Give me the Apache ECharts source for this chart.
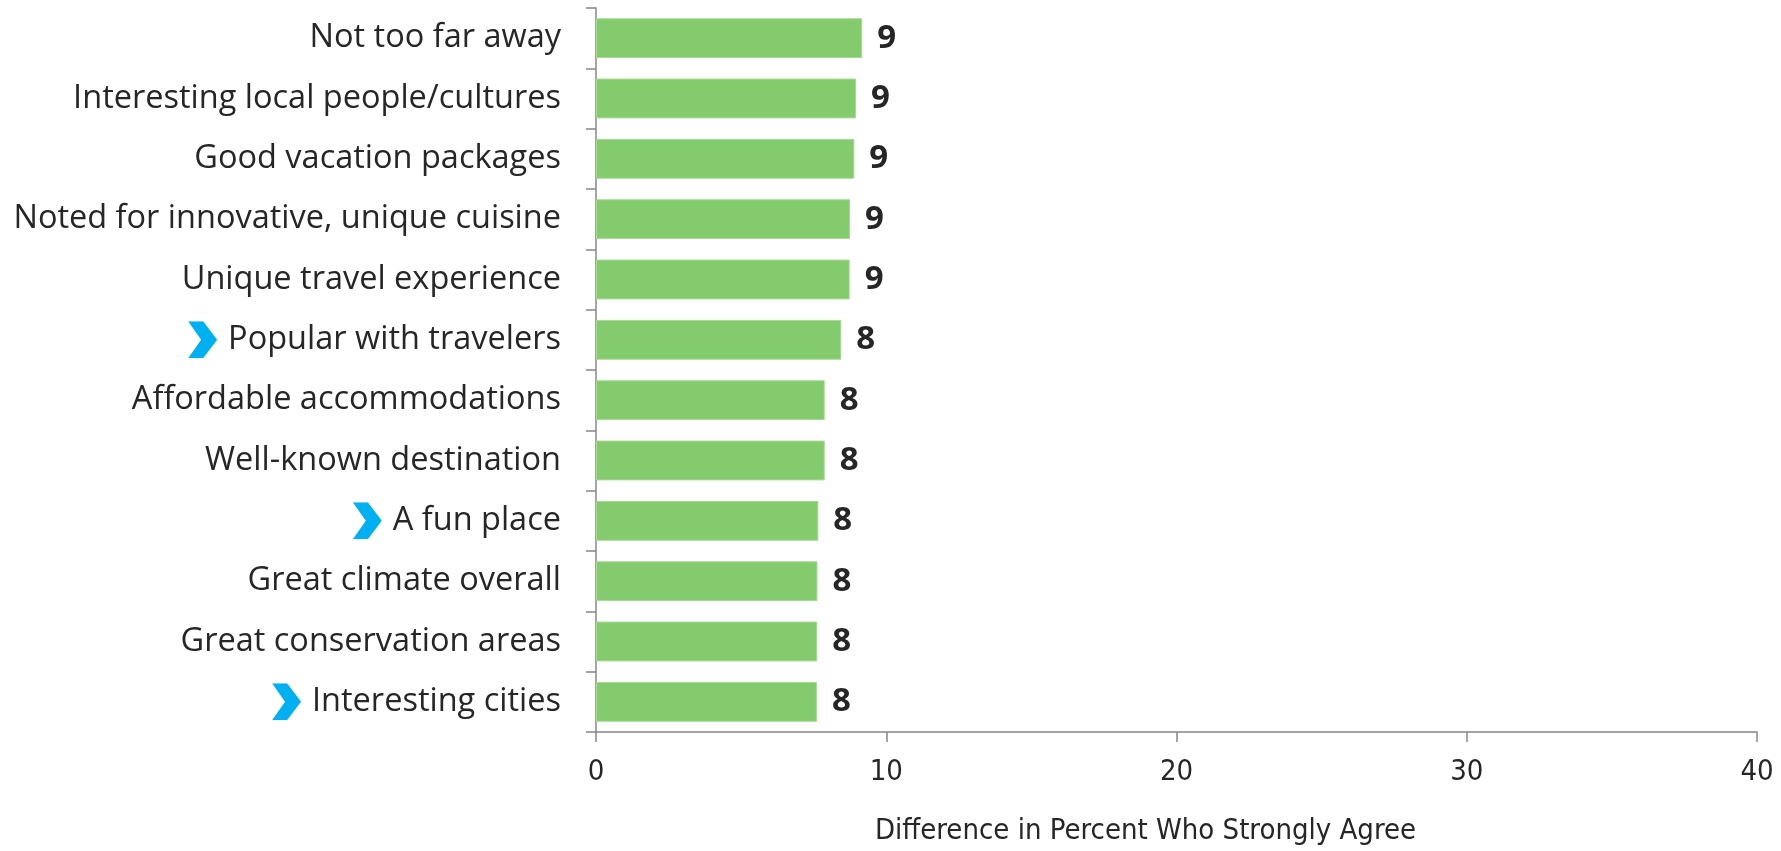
<!DOCTYPE html>
<html>
<head>
<meta charset="utf-8">
<script src="https://cdn.jsdelivr.net/npm/echarts@6/dist/echarts.min.js"></script>
<style>html,body{margin:0;padding:0;background:#fff}#c{width:1781px;height:851px}</style>
</head>
<body>
<div id="c"></div>
<script>
const categories = [
  "Not too far away",
  "Interesting local people/cultures",
  "Good vacation packages",
  "Noted for innovative, unique cuisine",
  "Unique travel experience",
  "Popular with travelers",
  "Affordable accommodations",
  "Well-known destination",
  "A fun place",
  "Great climate overall",
  "Great conservation areas",
  "Interesting cities"
];
const values = [9.17, 8.96, 8.90, 8.75, 8.74, 8.45, 7.88, 7.88, 7.66, 7.63, 7.62, 7.61];
const highlighted = ["Popular with travelers", "A fun place", "Interesting cities"];
const xTicks = [0, 10, 20, 30, 40];
const xTitle = "Difference in Percent Who Strongly Agree";

const chevSvg = 'data:image/svg+xml;charset=utf-8,' + encodeURIComponent(
  '<svg xmlns="http://www.w3.org/2000/svg" width="29" height="37" viewBox="0 0 29 37"><polygon points="0,0 15,0 29,18.5 15,37 0,37 13,18.5" fill="#00B0F0"/></svg>');

const chart = echarts.init(document.getElementById('c'));
chart.setOption({
  animation: false,
  grid: { left: 596, right: 24, top: 8, bottom: 115, containLabel: false },
  xAxis: {
    type: 'value', min: xTicks[0], max: xTicks[xTicks.length - 1], interval: 10,
    axisLine: { show: true, lineStyle: { color: '#878787', width: 1.5 } },
    axisTick: { show: true, length: 10, lineStyle: { color: '#878787', width: 1.5 } },
    splitLine: { show: false },
    axisLabel: { fontFamily: "'Liberation Sans Narrow','DejaVu Sans Condensed',sans-serif", fontSize: 29, color: '#262626', margin: 26 },
    name: xTitle, nameLocation: 'middle', nameGap: 85,
    nameTextStyle: { fontFamily: "'Liberation Sans Narrow','DejaVu Sans Condensed',sans-serif", fontSize: 29, color: '#262626', padding: [0, 62, 0, 0] }
  },
  yAxis: {
    type: 'category', data: categories, inverse: true,
    axisLine: { show: true, lineStyle: { color: '#878787', width: 1.5 } },
    axisTick: { show: true, length: 10, lineStyle: { color: '#878787', width: 1.5 } },
    axisLabel: {
      margin: 35, color: '#262626', fontFamily: "'Open Sans',sans-serif", fontSize: 32.5,
      formatter: function (v) { return highlighted.indexOf(v) >= 0 ? '{chev|}{sp|}{t|' + v + '}' : '{t|' + v + '}'; },
      rich: {
        t: { fontFamily: "'Open Sans',sans-serif", fontSize: 32.5, color: '#262626' },
        chev: { width: 29, height: 37, backgroundColor: { image: chevSvg } },
        sp: { width: 11 }
      }
    }
  },
  series: [{
    type: 'bar', data: values, barCategoryGap: '34%',
    itemStyle: { color: '#83CB6D', borderColor: '#A6DA95', borderWidth: 1 },
    label: {
      show: true, position: 'right', distance: 15,
      formatter: function (p) { return Math.round(p.value); },
      fontFamily: "'Open Sans',sans-serif", fontWeight: 'bold', fontSize: 33, color: '#262626'
    }
  }]
});
</script>
</body>
</html>
